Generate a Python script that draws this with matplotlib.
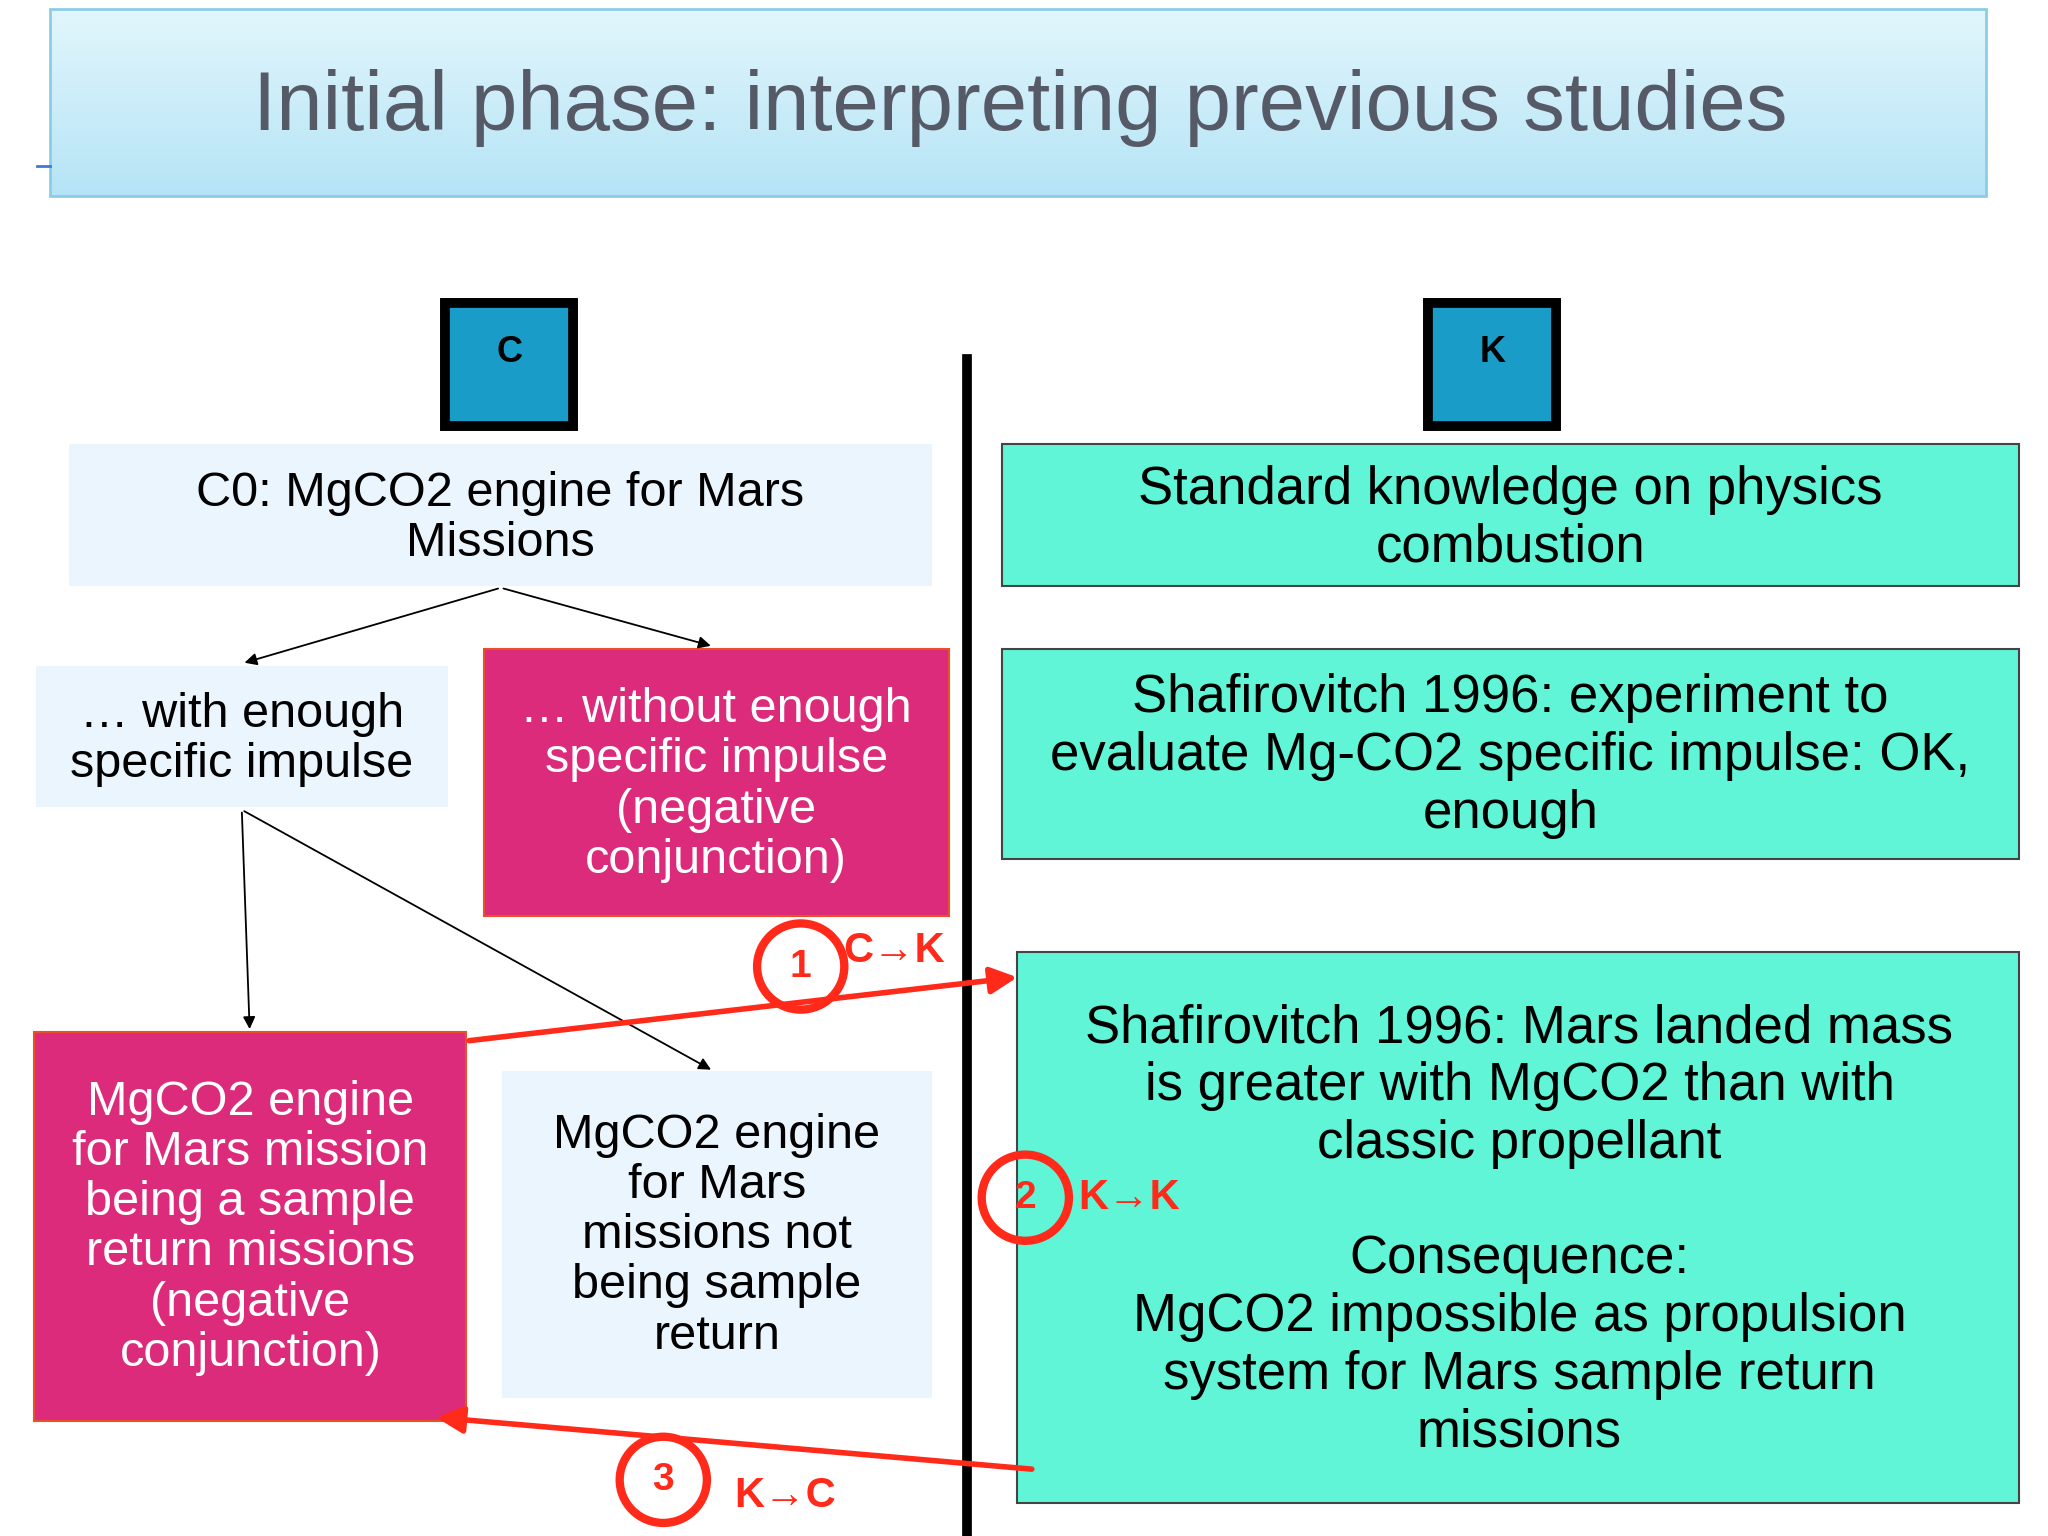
import matplotlib
matplotlib.use("Agg")
import matplotlib.pyplot as plt
import numpy as np
from matplotlib.patches import Rectangle, Circle, FancyArrowPatch
from matplotlib.colors import LinearSegmentedColormap

plt.rcParams['font.family'] = ['Liberation Sans', 'DejaVu Sans']

title = "Initial phase: interpreting previous studies"
header_labels = ["C", "K"]
left_texts = ["C0: MgCO2 engine for Mars\nMissions",
              "… with enough\nspecific impulse",
              "… without enough\nspecific impulse\n(negative\nconjunction)",
              "MgCO2 engine\nfor Mars mission\nbeing a sample\nreturn missions\n(negative\nconjunction)",
              "MgCO2 engine\nfor Mars\nmissions not\nbeing sample\nreturn"]
right_texts = ["Standard knowledge on physics\ncombustion",
               "Shafirovitch 1996: experiment to\nevaluate Mg-CO2 specific impulse: OK,\nenough",
               "Shafirovitch 1996: Mars landed mass\nis greater with MgCO2 than with\nclassic propellant\n\nConsequence:\nMgCO2 impossible as propulsion\nsystem for Mars sample return\nmissions"]
step_numbers = ["1", "2", "3"]
step_labels = ["C→K", "K→K", "K→C"]

fig = plt.figure(figsize=(20.48, 15.36), dpi=100)
ax = fig.add_axes([0, 0, 1, 1])
ax.set_xlim(0, 1550); ax.set_ylim(1176, 0); ax.axis("off")

grad = np.linspace(0, 1, 100).reshape(-1, 1)
cm = LinearSegmentedColormap.from_list("g", ["#e2f6fc", "#b5e4f6"])
ax.imshow(grad, cmap=cm, extent=(38, 1503, 150, 7), aspect="auto", zorder=1)
ax.add_patch(Rectangle((38, 7), 1465, 143, fill=False, ec="#8ccde6", lw=2, zorder=2))
ax.text(772, 83, title, ha="center", va="center", fontsize=60, color="#555a66", zorder=3)
ax.plot([28, 38], [127, 127], color="#3a7bd5", lw=2)

for x, lab in zip([337, 1081], header_labels):
    ax.add_patch(Rectangle((x, 232), 97, 94, fc="#1a9cc8", ec="black", lw=7, zorder=2))
    ax.add_patch(Rectangle((x - 3, 229), 103, 100, fill=False, ec="black", lw=1.2, zorder=2))
    ax.text(x + 48.5, 270, lab, ha="center", va="center", fontsize=26, fontweight="bold", zorder=3)

ax.plot([732, 732], [275, 1176], color="black", lw=7, zorder=2)

light = "#eaf5fd"; mag = "#dc2b7a"; teal = "#60f5d6"
left_boxes = [(52, 340, 653, 109, light, "black", 397),
              (27, 510, 312, 108, light, "black", 566),
              (366, 497, 352, 204, mag, "white", 601),
              (26, 790, 327, 298, mag, "white", 940),
              (380, 820, 325, 250, light, "black", 946)]
for (x, y, w, h, fc, tc, ty), txt in zip(left_boxes, left_texts):
    ec = "#e8502a" if fc == mag else "none"
    ax.add_patch(Rectangle((x, y), w, h, fc=fc, ec=ec, lw=1.5, zorder=2))
    ax.text(x + w / 2, ty, txt, ha="center", va="center", fontsize=35, color=tc,
            linespacing=1.15, zorder=3)

right_boxes = [(758, 340, 770, 109, 397), (758, 497, 770, 161, 579), (770, 729, 758, 422, 942)]
for (x, y, w, h, ty), txt in zip(right_boxes, right_texts):
    ax.add_patch(Rectangle((x, y), w, h, fc=teal, ec="#444444", lw=1.5, zorder=2))
    ax.text(x + w / 2 if x == 758 else 1150, ty, txt, ha="center", va="center",
            fontsize=38, color="black", linespacing=1.2, zorder=3)

for (x0, y0), (x1, y1) in [((379, 450), (183, 508)), ((379, 450), (540, 495)),
                           ((183, 620), (189, 790)), ((183, 620), (540, 820))]:
    ax.add_patch(FancyArrowPatch((x0, y0), (x1, y1), arrowstyle="-|>", mutation_scale=18,
                                 color="black", lw=1.3, zorder=4))

red = "#ff2a1a"
ax.add_patch(FancyArrowPatch((353, 797), (772, 748), arrowstyle="-|>", mutation_scale=40,
                             color=red, lw=4, zorder=5))
ax.add_patch(FancyArrowPatch((783, 1125), (328, 1085), arrowstyle="-|>", mutation_scale=40,
                             color=red, lw=4, zorder=5))

for (cx, cy), n, (lx, ly), lab in zip([(606, 740), (776, 917), (502, 1133)], step_numbers,
                                      [(638, 728), (816, 917), (556, 1145)], step_labels):
    ax.add_patch(Circle((cx, cy), 33, fill=False, ec=red, lw=6, zorder=6))
    ax.text(cx, cy, n, ha="center", va="center", fontsize=28, fontweight="bold", color=red, zorder=6)
    ax.text(lx, ly, lab, ha="left", va="center", fontsize=30, fontweight="bold", color=red, zorder=6)

fig.savefig("out.png", dpi=100)
